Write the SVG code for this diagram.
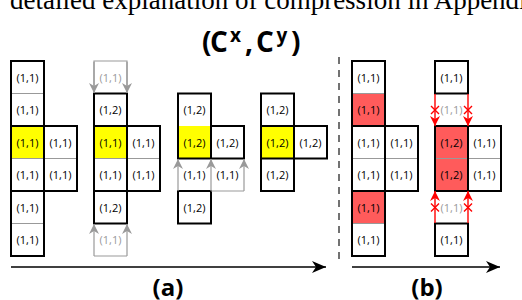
<svg xmlns="http://www.w3.org/2000/svg" width="522" height="300" viewBox="0 0 522 300">
<defs>
<style>
.c{font-family:"Open Sans","Liberation Sans",sans-serif;font-size:11px;text-anchor:middle;fill:#000}
.g{fill:#999}
.k{fill:none;stroke:#000;stroke-width:2}
.t{stroke:#999;stroke-width:1;fill:none}
.gl{stroke:#999;stroke-width:1.2;fill:none}
.rl{stroke:#f00;stroke-width:1.4;fill:none}
.y{fill:#ffff00}
.r{fill:#ff5b5b}
.lab{font-family:"Open Sans","Liberation Sans",sans-serif;font-weight:bold;fill:#000}
</style>
<marker id="ga" viewBox="0 0 10 10" refX="10" refY="5" markerWidth="10" markerHeight="10" markerUnits="userSpaceOnUse" orient="auto"><path d="M0,0 L10,5 L0,10 L3,5 Z" fill="#999"/></marker>
<marker id="ra" viewBox="0 0 10 10" refX="10" refY="5" markerWidth="10" markerHeight="10" markerUnits="userSpaceOnUse" orient="auto"><path d="M0,0 L10,5 L0,10 L3,5 Z" fill="#f00"/></marker>
<marker id="ka" viewBox="0 0 14 12" refX="14" refY="6" markerWidth="14" markerHeight="12" markerUnits="userSpaceOnUse" orient="auto"><path d="M0,0 L14,6 L0,12 L4,6 Z" fill="#000"/></marker>
</defs>
<rect width="522" height="300" fill="#fff"/>
<text x="10" y="9" font-family="'Liberation Serif',serif" font-size="27" fill="#000">detailed explanation of compression in Appendix</text>
<text class="lab" y="52" font-size="28"><tspan x="202">(</tspan><tspan x="210">C</tspan><tspan x="230" y="42" font-size="19">x</tspan><tspan x="245" y="52">,</tspan><tspan x="256">C</tspan><tspan x="276.5" y="42" font-size="19">y</tspan><tspan x="291" y="52">)</tspan></text>

<g id="group1">
<rect class="y" x="11" y="126" width="33" height="32.5"/>
<path class="t" d="M11,93.5H44M11,158.5H77M11,223.5H44"/>
<path class="k" d="M11,61H44V256H11Z M11,126H77V191H11 M11,191H44 M44,126V191"/>
<text class="c" x="27.5" y="81.5">(1,1)</text>
<text class="c" x="27.5" y="114">(1,1)</text>
<text class="c" x="27.5" y="146.5">(1,1)</text>
<text class="c" x="60.5" y="146.5">(1,1)</text>
<text class="c" x="27.5" y="179">(1,1)</text>
<text class="c" x="60.5" y="179">(1,1)</text>
<text class="c" x="27.5" y="211.5">(1,1)</text>
<text class="c" x="27.5" y="244">(1,1)</text>
</g>

<g id="group2">
<rect class="y" x="94" y="126" width="33" height="32.5"/>
<path class="t" d="M94,158.5H160"/>
<path class="k" d="M94,93.5H127V223.5H94Z M127,126H160V191H94 M94,126H127"/>
<text class="c g" x="110.5" y="81.5">(1,1)</text>
<text class="c" x="110.5" y="114">(1,2)</text>
<text class="c" x="110.5" y="146.5">(1,1)</text>
<text class="c" x="143.5" y="146.5">(1,1)</text>
<text class="c" x="110.5" y="179">(1,1)</text>
<text class="c" x="143.5" y="179">(1,1)</text>
<text class="c" x="110.5" y="211.5">(1,2)</text>
<text class="c g" x="110.5" y="244">(1,1)</text>
</g>

<g id="group3">
<rect class="y" x="178" y="126" width="33" height="32.5"/>
<path class="k" d="M178,93.5H211V158.5H178Z M211,126H244V158.5H211 M178,191H211V223.5H178Z"/>
<text class="c" x="194.5" y="114">(1,2)</text>
<text class="c" x="194.5" y="146.5">(1,2)</text>
<text class="c" x="227.5" y="146.5">(1,2)</text>
<text class="c" x="194.5" y="179">(1,1)</text>
<text class="c" x="227.5" y="179">(1,1)</text>
<text class="c" x="194.5" y="211.5">(1,2)</text>
</g>

<g id="group4">
<rect class="y" x="261" y="126" width="33" height="32.5"/>
<path class="k" d="M261,93.5H294V191H261Z M294,126H327V158.5H261 M261,126H294"/>
<text class="c" x="277.5" y="114">(1,2)</text>
<text class="c" x="277.5" y="146.5">(1,2)</text>
<text class="c" x="310.5" y="146.5">(1,2)</text>
<text class="c" x="277.5" y="179">(1,2)</text>
</g>

<g id="group5">
<rect class="r" x="352" y="93.5" width="33" height="32.5"/>
<rect class="r" x="352" y="191" width="33" height="32.5"/>
<path class="t" d="M352,93.5H385M352,158.5H418M352,223.5H385"/>
<path class="k" d="M352,61H385V256H352Z M352,126H418V191H352 M385,126V191"/>
<text class="c" x="368.5" y="81.5">(1,1)</text>
<text class="c" x="368.5" y="114">(1,1)</text>
<text class="c" x="368.5" y="146.5">(1,1)</text>
<text class="c" x="401.5" y="146.5">(1,1)</text>
<text class="c" x="368.5" y="179">(1,1)</text>
<text class="c" x="401.5" y="179">(1,1)</text>
<text class="c" x="368.5" y="211.5">(1,1)</text>
<text class="c" x="368.5" y="244">(1,1)</text>
</g>

<g id="group6">
<rect class="r" x="435" y="126" width="33" height="65"/>
<path class="t" d="M435,158.5H501"/>
<path class="k" d="M435,61H468V93.5H435Z M435,126H501V191H435Z M468,126V191 M435,223.5H468V256H435Z"/>
<text class="c" x="451.5" y="81.5">(1,1)</text>
<text class="c g" x="451.5" y="114">(1,1)</text>
<text class="c" x="451.5" y="146.5">(1,2)</text>
<text class="c" x="484.5" y="146.5">(1,1)</text>
<text class="c" x="451.5" y="179">(1,2)</text>
<text class="c" x="484.5" y="179">(1,1)</text>
<text class="c g" x="451.5" y="211.5">(1,1)</text>
<text class="c" x="451.5" y="244">(1,1)</text>
</g>

<g id="connectors">
<path class="gl" d="M94,93 V61 H127 V93"/>
<path class="gl" d="M94,62 V93" marker-end="url(#ga)"/>
<path class="gl" d="M127,62 V93" marker-end="url(#ga)"/>
<path class="gl" d="M94,256 H127"/>
<path class="gl" d="M94,256 V224" marker-end="url(#ga)"/>
<path class="gl" d="M127,256 V224" marker-end="url(#ga)"/>
<path class="gl" d="M211,191 H244"/>
<path class="gl" d="M178,191 V159" marker-end="url(#ga)"/>
<path class="gl" d="M211,191 V159" marker-end="url(#ga)"/>
<path class="gl" d="M244,191 V159" marker-end="url(#ga)"/>
<path class="rl" d="M435,94 V126" marker-end="url(#ra)"/>
<path class="rl" d="M468,94 V126" marker-end="url(#ra)"/>
<path class="rl" d="M435,223 V191" marker-end="url(#ra)"/>
<path class="rl" d="M468,223 V191" marker-end="url(#ra)"/>
<path class="rl" d="M431,106l8,8m0,-8l-8,8 M464,106l8,8m0,-8l-8,8 M431,203.5l8,8m0,-8l-8,8 M464,203.5l8,8m0,-8l-8,8"/>
<path d="M339,57 V263" stroke="#444" stroke-width="1.5" stroke-dasharray="7,6"/>
<path d="M11,267 H326" stroke="#000" stroke-width="1.5" marker-end="url(#ka)"/>
<path d="M352,267 H500" stroke="#000" stroke-width="1.5" marker-end="url(#ka)"/>
</g>
<text class="lab" x="168" y="296" font-size="24" text-anchor="middle">(a)</text>
<text class="lab" x="427" y="296" font-size="24" text-anchor="middle">(b)</text>
</svg>
